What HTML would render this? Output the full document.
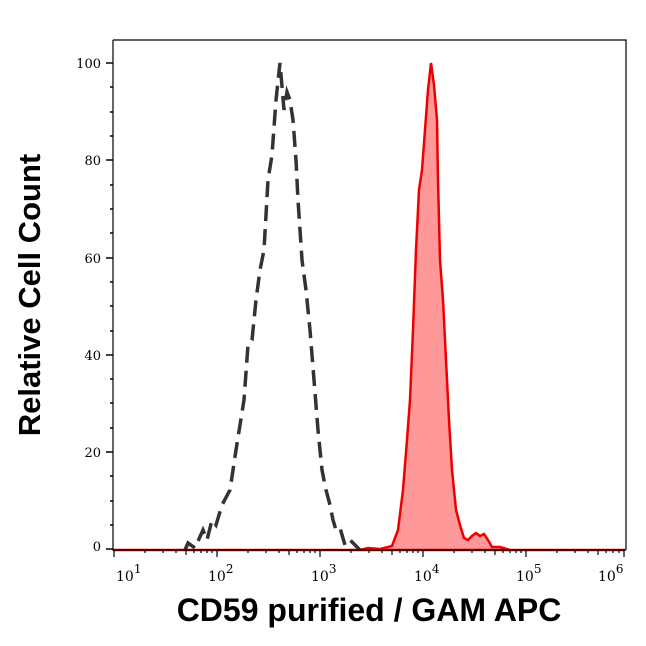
<!DOCTYPE html>
<html><head><style>body{margin:0;background:#fff}</style></head><body>
<svg width="646" height="641" xmlns="http://www.w3.org/2000/svg" font-family="DejaVu Serif, serif">
<rect width="646" height="641" fill="#fff"/>
<path d="M113,550 L360,550 L368,548 L380,549 L392,546 L398,530 L403,490 L407,440 L410,400 L413,330 L416,250 L419,190 L422,170 L425,130 L428,90 L431,63 L434,85 L437,120 L438,180 L440,260 L443,300 L446,360 L449,420 L452,470 L456,510 L460,525 L464,538 L468,540 L472,536 L476,533 L480,536 L484,534 L488,540 L492,547 L500,547 L510,550 L625,550 Z" fill="#ff9999" stroke="#e00" stroke-width="2.5"/>
<path d="M185,550 L188,543 L195,548 L203,530 L207,540 L212,520 L216,525 L222,505 L230,490 L236,450 L240,425 L244,400 L248,345 L252,340 L256,300 L260,270 L264,250 L268,180 L272,155 L276,100 L280,63 L284,110 L287,92 L290,100 L293,120 L296,160 L298,200 L302,260 L306,290 L310,330 L314,380 L318,430 L322,470 L326,490 L330,505 L333,520 L336,530 L340,528 L345,545 L350,540 L360,550" fill="none" stroke="#333" stroke-width="3.5" stroke-dasharray="16,8"/>
<path d="M113,40 L626,40 L626,550 M113,40 L113,550 L626,550" fill="none" stroke="#000" stroke-width="1.2"/>
<g stroke="#000" stroke-width="1.5">
<line x1="106" y1="63" x2="113" y2="63"/><line x1="106" y1="160" x2="113" y2="160"/><line x1="106" y1="258" x2="113" y2="258"/><line x1="106" y1="355" x2="113" y2="355"/><line x1="106" y1="452" x2="113" y2="452"/><line x1="106" y1="549" x2="113" y2="549"/>
<line x1="110" y1="87" x2="113" y2="87"/><line x1="110" y1="112" x2="113" y2="112"/><line x1="110" y1="136" x2="113" y2="136"/><line x1="110" y1="185" x2="113" y2="185"/><line x1="110" y1="209" x2="113" y2="209"/><line x1="110" y1="233" x2="113" y2="233"/><line x1="110" y1="282" x2="113" y2="282"/><line x1="110" y1="306" x2="113" y2="306"/><line x1="110" y1="331" x2="113" y2="331"/><line x1="110" y1="379" x2="113" y2="379"/><line x1="110" y1="403" x2="113" y2="403"/><line x1="110" y1="428" x2="113" y2="428"/><line x1="110" y1="476" x2="113" y2="476"/><line x1="110" y1="501" x2="113" y2="501"/><line x1="110" y1="525" x2="113" y2="525"/>
</g>
<g stroke="#000" stroke-width="1.2">
<path d="M114,550v7M145,550v3M163,550v3M176,550v3M186,550v5M194,550v3M201,550v3M207,550v3M212,550v3
M217,550v7M248,550v3M266,550v3M279,550v3M289,550v5M297,550v3M304,550v3M310,550v3M315,550v3
M320,550v7M351,550v3M369,550v3M382,550v3M392,550v5M400,550v3M407,550v3M413,550v3M418,550v3
M423,550v7M454,550v3M472,550v3M485,550v3M495,550v5M503,550v3M510,550v3M516,550v3M521,550v3
M526,550v7M557,550v3M575,550v3M588,550v3M598,550v5M606,550v3M613,550v3M619,550v3M624,550v7"/>
</g>
<g font-size="13" text-anchor="end">
<text x="101" y="68">100</text><text x="101" y="165">80</text><text x="101" y="263">60</text><text x="101" y="360">40</text><text x="101" y="457">20</text><text x="101" y="551">0</text>
</g>
<g font-size="14">
<text x="116" y="581">10<tspan dy="-8" font-size="12">1</tspan></text>
<text x="208" y="581">10<tspan dy="-8" font-size="12">2</tspan></text>
<text x="311" y="581">10<tspan dy="-8" font-size="12">3</tspan></text>
<text x="414" y="581">10<tspan dy="-8" font-size="12">4</tspan></text>
<text x="516" y="581">10<tspan dy="-8" font-size="12">5</tspan></text>
<text x="598" y="581">10<tspan dy="-8" font-size="12">6</tspan></text>
</g>
<text x="369" y="621" text-anchor="middle" font-family="Liberation Sans, sans-serif" font-weight="bold" font-size="32">CD59 purified / GAM APC</text>
<text transform="translate(40,295) rotate(-90)" text-anchor="middle" font-family="Liberation Sans, sans-serif" font-weight="bold" font-size="31">Relative Cell Count</text>
</svg>
</body></html>
